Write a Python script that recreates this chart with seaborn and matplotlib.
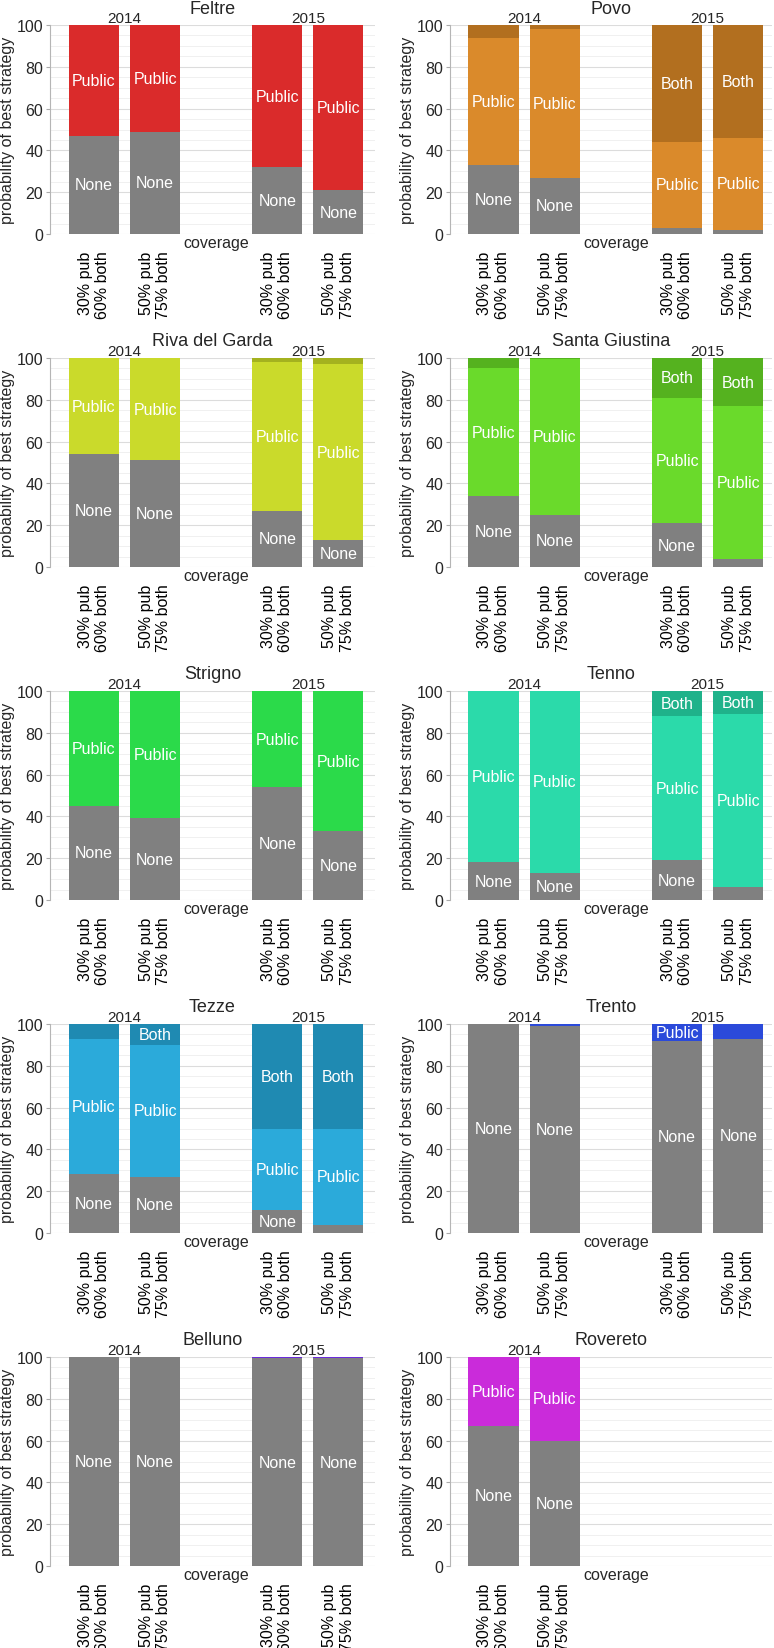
import pandas as pd
import matplotlib.pyplot as plt
import matplotlib.ticker as mticker
import seaborn as sns

TOWNS = ["Feltre", "Povo", "Riva del Garda", "Santa Giustina", "Strigno",
         "Tenno", "Tezze", "Trento", "Belluno", "Rovereto"]
YEARS = ["2014", "2015"]
COVERAGE = ["30% pub\n60% both", "50% pub\n75% both"]
POSITIONS = [0, 1, 3, 4]

# share (%) of runs where each strategy is best; bars = 2014 x2, 2015 x2
NONE_PCT = [
    [47, 49, 32, 21],
    [33, 27, 3, 2],
    [54, 51, 27, 13],
    [34, 25, 21, 4],
    [45, 39, 54, 33],
    [18, 13, 19, 6],
    [28, 27, 11, 4],
    [100, 99, 92, 93],
    [100, 100, 99.5, 99.5],
    [67, 60],
]
PUBLIC_PCT = [
    [53, 51, 68, 79],
    [61, 71, 41, 44],
    [46, 49, 71, 84],
    [61, 74.5, 60, 73],
    [55, 61, 46, 67],
    [82, 87, 69, 83],
    [65, 63, 39, 46],
    [0, 1, 8, 7],
    [0, 0, 0.5, 0.5],
    [33, 40],
]
BOTH_PCT = [
    [0, 0, 0, 0],
    [6, 2, 56, 54],
    [0, 0, 2, 3],
    [5, 0.5, 19, 23],
    [0, 0, 0, 0],
    [0, 0, 12, 11],
    [7, 10, 50, 50],
    [0, 0, 0, 0],
    [0, 0, 0, 0],
    [0, 0],
]

GREY = "#808080"
LIGHT = sns.hls_palette(11, h=0, l=0.51, s=0.7)
DARK = sns.hls_palette(11, h=0, l=0.41, s=0.7)

sns.set_theme(style="white")
plt.rcParams["font.family"] = ["Liberation Sans", "DejaVu Sans"]
plt.rcParams["font.size"] = 11.5

FIG_W, FIG_H = 774, 1649
fig = plt.figure(figsize=(FIG_W / 100, FIG_H / 100), dpi=100)

COL_LEFT = [50, 450]
COL_WIDTH = [325, 322]
ROW_TOP = [26, 359, 692, 1025, 1358]
AX_H = 209
XLIMS = [(-0.72, 4.6), (-0.71, 4.55)]

for i, town in enumerate(TOWNS):
    row, col = divmod(i, 2)
    rect = [COL_LEFT[col] / FIG_W, 1 - (ROW_TOP[row] + AX_H) / FIG_H,
            COL_WIDTH[col] / FIG_W, AX_H / FIG_H]
    ax = fig.add_axes(rect)
    n = len(NONE_PCT[i])
    df = pd.DataFrame({
        "pos": POSITIONS[:n],
        "none": NONE_PCT[i],
        "public": PUBLIC_PCT[i],
        "both": BOTH_PCT[i],
    })
    df["upto_public"] = df["none"] + df["public"]
    df["total"] = df["upto_public"] + df["both"]

    # stacked via overlapping cumulative bars
    for colname, color in [("total", DARK[i]), ("upto_public", LIGHT[i]), ("none", GREY)]:
        sns.barplot(data=df, x="pos", y=colname, native_scale=True, orient="x",
                    width=0.82, color=color, saturation=1, linewidth=0,
                    errorbar=None, ax=ax)

    for _, r in df.iterrows():
        segs = [("None", 0, r["none"]), ("Public", r["none"], r["public"]),
                ("Both", r["upto_public"], r["both"])]
        for name, base, h in segs:
            if h > 7.5:
                ax.text(r["pos"], base + h / 2, name, ha="center", va="center",
                        color="white", fontsize=11.5)

    for k in range(n // 2):
        ax.annotate(YEARS[k], xy=(POSITIONS[2 * k] + 0.5, 100), xytext=(0, 2),
                    textcoords="offset points", ha="center", va="baseline",
                    fontsize=11, annotation_clip=False)

    x0, x1 = XLIMS[col]
    ax.set_xlim(x0, x1)
    ax.set_ylim(0, 100)
    ax.set_xticks(POSITIONS[:n])
    ax.set_xticklabels((COVERAGE * 2)[:n], rotation=90, fontsize=11.5)
    for lbl in ax.get_xticklabels():
        lbl.set_multialignment("right")
    ax.set_yticks(range(0, 101, 20))
    ax.yaxis.set_minor_locator(mticker.MultipleLocator(5))
    ax.tick_params(axis="x", length=0, pad=12, colors="black")
    ax.tick_params(axis="y", which="major", length=3, width=0.8,
                   color="#aaaaaa", labelsize=11.5, pad=2, left=True)
    ax.tick_params(axis="y", which="minor", length=0)

    ax.set_axisbelow(True)
    ax.grid(False)
    ax.yaxis.grid(True, which="major", color="#dcdcdc", linewidth=0.8)
    ax.yaxis.grid(True, which="minor", color="#eeeeee", linewidth=0.6)

    for side in ["top", "right", "bottom"]:
        ax.spines[side].set_visible(False)
    ax.spines["left"].set_color("#b5b5b5")
    ax.spines["left"].set_linewidth(0.8)

    ax.set_title(town, fontsize=13, pad=9)
    ax.set_ylabel("probability of best strategy", fontsize=11.5, labelpad=1)
    ax.set_xlabel("coverage", fontsize=11.5)
    ax.xaxis.set_label_coords((2 - x0) / (x1 - x0), -0.005)
    ax.xaxis.label.set_va("top")

fig.savefig("out.png", dpi=100, facecolor="white")
